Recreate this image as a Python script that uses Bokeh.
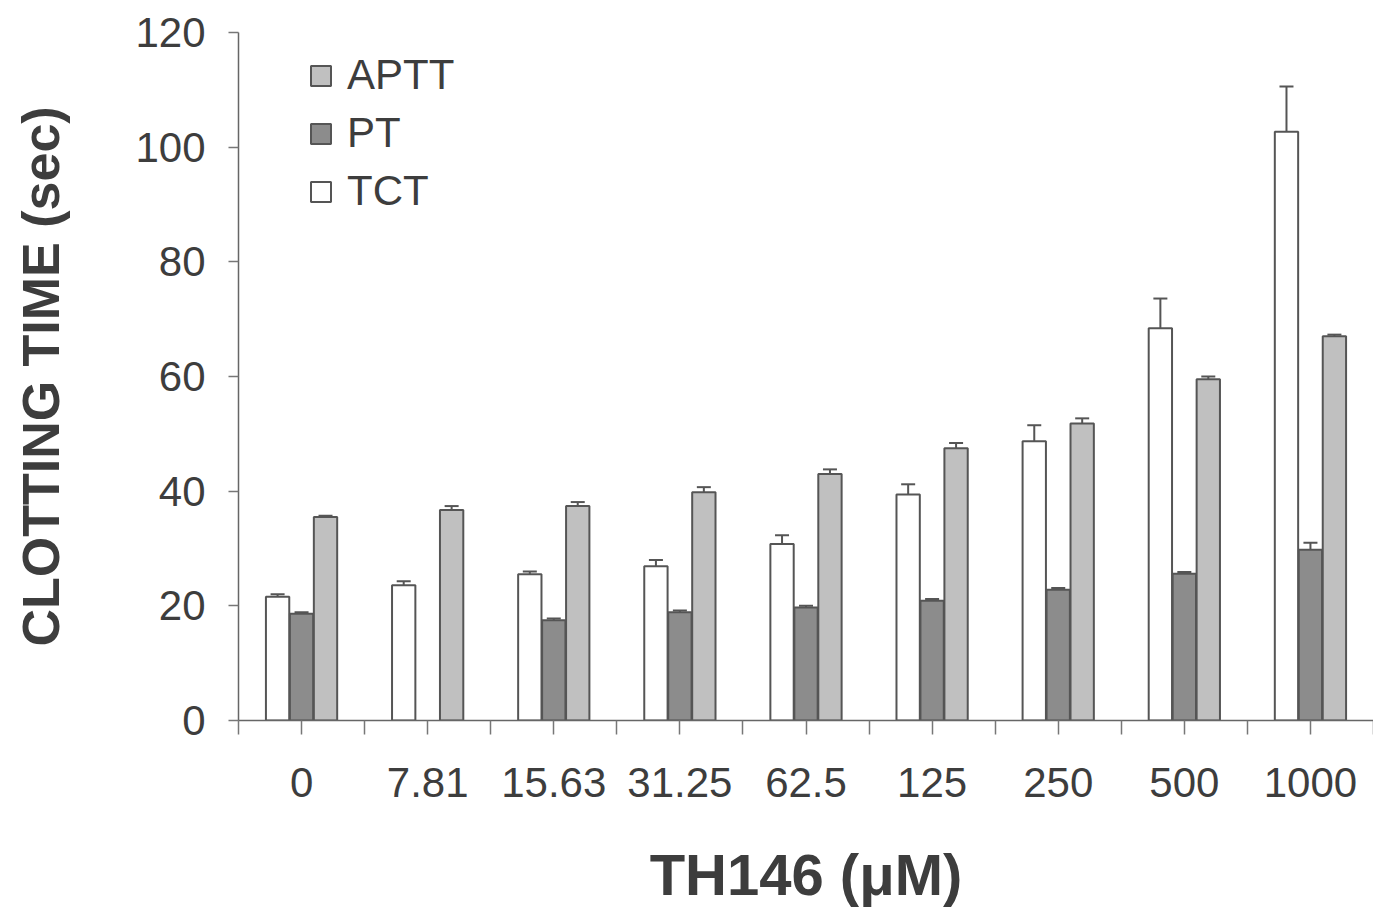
import numpy as np
from bokeh.plotting import figure
from bokeh.models import (ColumnDataSource, FixedTicker, Whisker, Legend, LegendItem,
                          Range1d, TeeHead)
from bokeh.transform import dodge
from bokeh.embed import file_html
from bokeh.resources import INLINE

# ---- data ----
concentrations = ["0", "7.81", "15.63", "31.25", "62.5", "125", "250", "500", "1000"]
tct = [21.6, 23.6, 25.5, 26.9, 30.8, 39.4, 48.7, 68.4, 102.7]
tct_err = [0.4, 0.7, 0.5, 1.1, 1.5, 1.8, 2.8, 5.2, 7.9]
pt = [18.6, np.nan, 17.5, 18.9, 19.7, 20.9, 22.8, 25.6, 29.8]
pt_err = [0.3, np.nan, 0.3, 0.3, 0.3, 0.3, 0.3, 0.3, 1.2]
aptt = [35.5, 36.7, 37.4, 39.8, 43.0, 47.5, 51.8, 59.5, 67.0]
aptt_err = [0.2, 0.7, 0.7, 0.9, 0.8, 0.9, 0.9, 0.5, 0.3]
y_ticks = [0, 20, 40, 60, 80, 100, 120]

n = len(concentrations)
centers = [i + 0.5 for i in range(n)]
src = ColumnDataSource(dict(
    x=centers,
    tct=tct, tct_hi=[v + e for v, e in zip(tct, tct_err)],
    pt=pt, pt_hi=[v + e for v, e in zip(pt, pt_err)],
    aptt=aptt, aptt_hi=[v + e for v, e in zip(aptt, aptt_err)],
))

FONT = "Liberation Sans"
TXT = "#3d3d3d"
EDGE = "#555555"

p = figure(width=1373, height=910, x_range=Range1d(0, n), y_range=Range1d(0, 120),
           output_backend="svg", toolbar_location=None,
           min_border_left=238, min_border_top=32, min_border_right=0,
           min_border_bottom=190)
p.outline_line_color = None
p.xgrid.visible = False
p.ygrid.visible = False
p.background_fill_color = "white"
p.border_fill_color = "white"

OFF = 0.19
W = 0.185
r_tct = p.vbar(x=dodge("x", -OFF), top="tct", width=W, source=src,
               fill_color="white", line_color=EDGE, line_width=2)
r_pt = p.vbar(x=dodge("x", 0), top="pt", width=W, source=src,
              fill_color="#8c8c8c", line_color=EDGE, line_width=2)
r_aptt = p.vbar(x=dodge("x", OFF), top="aptt", width=W, source=src,
                fill_color="#c0c0c0", line_color=EDGE, line_width=2)

for off, lo, hi in [(-OFF, "tct", "tct_hi"), (0, "pt", "pt_hi"), (OFF, "aptt", "aptt_hi")]:
    w = Whisker(source=src, base=dodge("x", off), lower=lo, upper=hi,
                dimension="height", line_color=EDGE, line_width=2,
                upper_head=TeeHead(size=14, line_color=EDGE, line_width=2),
                lower_head=None)
    p.add_layout(w)

# x axis
xa = p.xaxis[0]
xa.ticker = FixedTicker(ticks=centers, minor_ticks=list(range(n + 1)))
xa.major_label_overrides = {c: lab for c, lab in zip(centers, concentrations)}
xa.major_tick_out = 14
xa.major_tick_in = 0
xa.minor_tick_out = 14
xa.minor_tick_in = 0
xa.major_tick_line_color = "#777777"
xa.minor_tick_line_color = "#777777"
xa.major_tick_line_width = 1.5
xa.minor_tick_line_width = 1.5
xa.axis_line_color = "#666666"
xa.axis_line_width = 1.5
xa.major_label_text_font = FONT
xa.major_label_text_font_size = "42px"
xa.major_label_text_color = TXT
xa.major_label_standoff = 33
xa.axis_label = "TH146 (\u03bcM)"
xa.axis_label_text_font = FONT
xa.axis_label_text_font_style = "bold"
xa.axis_label_text_font_size = "58px"
xa.axis_label_text_color = TXT
xa.axis_label_standoff = 42

# y axis
ya = p.yaxis[0]
ya.ticker = FixedTicker(ticks=y_ticks)
ya.major_tick_out = 10
ya.major_tick_in = 0
ya.minor_tick_line_color = None
ya.major_tick_line_color = "#777777"
ya.major_tick_line_width = 1.5
ya.axis_line_color = "#666666"
ya.axis_line_width = 1.5
ya.major_label_text_font = FONT
ya.major_label_text_font_size = "42px"
ya.major_label_text_color = TXT
ya.major_label_standoff = 23
ya.axis_label = "CLOTTING TIME (sec)"
ya.axis_label_text_font = FONT
ya.axis_label_text_font_style = "bold"
ya.axis_label_text_font_size = "52px"
ya.axis_label_text_color = TXT
ya.axis_label_standoff = 62

legend = Legend(items=[LegendItem(label="APTT", renderers=[r_aptt]),
                       LegendItem(label="PT", renderers=[r_pt]),
                       LegendItem(label="TCT", renderers=[r_tct])],
                location=(70, 504), orientation="vertical",
                label_text_font=FONT, label_text_font_size="42px",
                label_text_color=TXT, glyph_width=25, glyph_height=25,
                label_height=50, spacing=8, padding=0, margin=0,
                label_standoff=14, border_line_color=None,
                background_fill_alpha=0)
p.add_layout(legend)

open("out.html", "w").write(file_html(p, INLINE))
